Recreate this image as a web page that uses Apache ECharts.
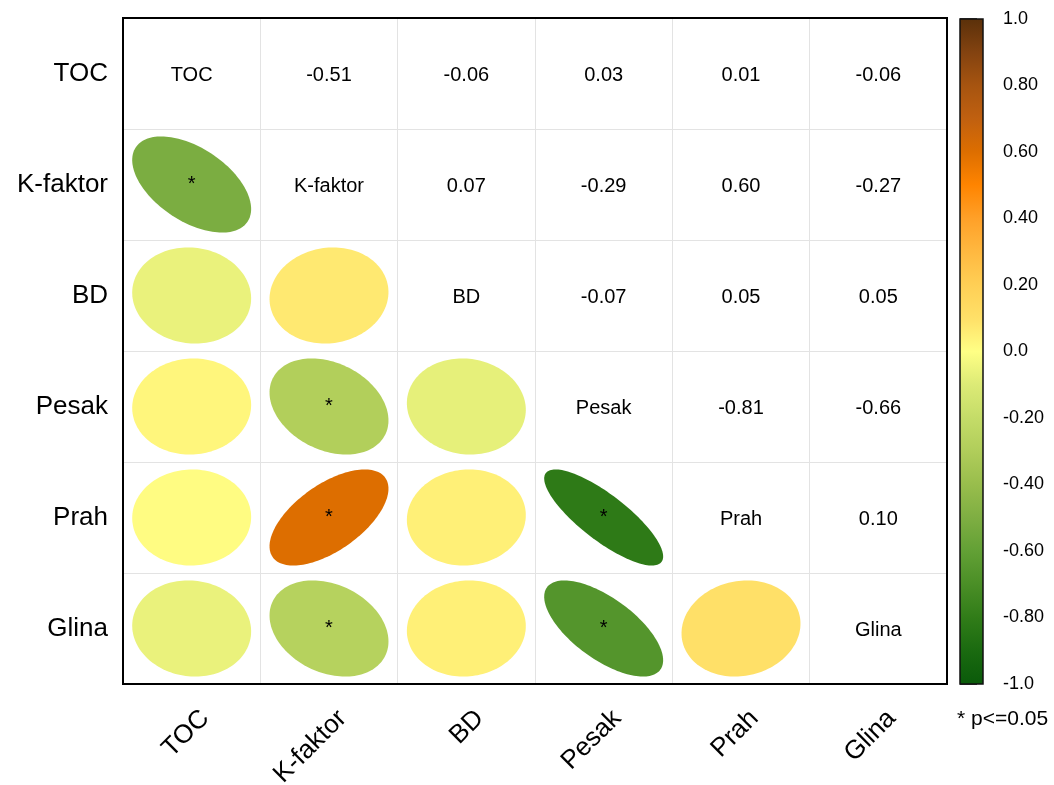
<!DOCTYPE html>
<html>
<head>
<meta charset="utf-8">
<title>Correlation matrix</title>
<script src="https://cdn.jsdelivr.net/npm/echarts@6/dist/echarts.min.js"></script>
<style>
html, body { margin: 0; padding: 0; background: #fff; }
#chart { width: 1054px; height: 785px; }
</style>
</head>
<body>
<div id="chart"></div>
<script>
// variables, in the order of the matrix
const vars = ['TOC', 'K-faktor', 'BD', 'Pesak', 'Prah', 'Glina']

// correlation rows
const corrTOC = [1, -0.51, -0.06, 0.03, 0.01, -0.06]
const corrKfaktor = [-0.51, 1, 0.07, -0.29, 0.60, -0.27]
const corrBD = [-0.06, 0.07, 1, -0.07, 0.05, 0.05]
const corrPesak = [0.03, -0.29, -0.07, 1, -0.81, -0.66]
const corrPrah = [0.01, 0.60, 0.05, -0.81, 1, 0.10]
const corrGlina = [-0.06, -0.27, 0.05, -0.66, 0.10, 1]
const corr = [corrTOC, corrKfaktor, corrBD, corrPesak, corrPrah, corrGlina]

// pairs with p <= 0.05, as [row, col]
const significant = [[1, 0], [3, 1], [4, 1], [4, 3], [5, 1], [5, 3]]

// colour scale, from -1.0 to 1.0 in steps of 0.1
const palette = [
  '#0a5a0a', '#1a6a10', '#307c18', '#4a8e26', '#62a035',
  '#7eae42', '#98bd4c', '#b0cd5a', '#c4dc68', '#dcea76',
  '#ffff85',
  '#ffe068', '#ffcf55', '#ffb840', '#ffa028', '#ff8400',
  '#dd6e00', '#c06010', '#a65410', '#824210', '#5a300a'
]

const FONT = "'Liberation Sans', Arial, sans-serif"

function isSig(row, col) {
  return significant.some((p) => p[0] === row && p[1] === col)
}

const ellipseData = []
const textData = []
corr.forEach((line, row) => {
  line.forEach((r, col) => {
    if (row > col) {
      ellipseData.push([col, row, r, isSig(row, col) ? 1 : 0])
    } else if (row === col) {
      textData.push([col, row, vars[row]])
    } else {
      textData.push([col, row, r.toFixed(2)])
    }
  })
})

function renderEllipse(params, api) {
  const c = api.coord([api.value(0), api.value(1)])
  const size = api.size([1, 1])
  const r = Math.max(-1, Math.min(1, api.value(2)))
  const d = Math.acos(r)
  const rx = size[0] * 0.433
  const ry = size[1] * 0.433
  const pts = []
  for (let i = 0; i < 144; i++) {
    const t = (2 * Math.PI * i) / 144
    pts.push([c[0] + rx * Math.cos(t + d / 2), c[1] - ry * Math.cos(t - d / 2)])
  }
  const children = [{
    type: 'polygon',
    shape: { points: pts },
    style: { fill: api.visual('color'), stroke: null },
  }]
  if (api.value(3) === 1) {
    children.push({
      type: 'text',
      style: {
        text: '*', x: c[0], y: c[1], fill: '#000',
        font: '20px ' + FONT, align: 'center', verticalAlign: 'middle',
      },
    })
  }
  return { type: 'group', children }
}

function renderText(params, api) {
  const c = api.coord([api.value(0), api.value(1)])
  return {
    type: 'text',
    style: {
      text: textData[params.dataIndex][2], x: c[0], y: c[1] + 1.5,
      fill: '#000', font: '20px ' + FONT, align: 'center', verticalAlign: 'middle',
    },
  }
}

// black frame round the matrix
function renderFrame(params) {
  const cs = params.coordSys
  return {
    type: 'rect',
    shape: { x: cs.x, y: cs.y, width: cs.width, height: cs.height },
    style: { fill: null, stroke: '#000', lineWidth: 2 },
    z2: 100,
  }
}

function renderColorbar(params, api) {
  const p1 = api.coord([0, api.value(1)])
  const p2 = api.coord([1, api.value(0)])
  const stops = palette.map((color, i) => ({ offset: 1 - i / (palette.length - 1), color }))
  stops.reverse()
  return {
    type: 'rect',
    shape: { x: p1[0], y: p1[1], width: p2[0] - p1[0], height: p2[1] - p1[1] },
    style: {
      fill: new echarts.graphic.LinearGradient(0, 0, 0, 1, stops),
      stroke: '#111', lineWidth: 1.5,
    },
  }
}

const chart = echarts.init(document.getElementById('chart'))
chart.setOption({
  backgroundColor: '#fff',
  animation: false,
  grid: [
    { left: 123, top: 18, width: 824, height: 666, outerBoundsMode: 'none', containLabel: false },
    { left: 960, top: 19, width: 23, height: 665, outerBoundsMode: 'none', containLabel: false },
  ],
  xAxis: [
    {
      type: 'category', data: vars, gridIndex: 0,
      axisLine: { show: false }, axisTick: { show: false },
      splitLine: { show: true, lineStyle: { color: '#e3e3e3', width: 1 } },
      axisLabel: { rotate: 45, margin: 17, verticalAlign: 'top', lineHeight: 38, color: '#000', fontSize: 26, fontFamily: FONT },
    },
    { type: 'value', gridIndex: 1, min: 0, max: 1, show: false },
  ],
  yAxis: [
    {
      type: 'category', data: vars, gridIndex: 0, inverse: true,
      axisLine: { show: false }, axisTick: { show: false },
      splitLine: { show: true, lineStyle: { color: '#e3e3e3', width: 1 } },
      axisLabel: { margin: 15, color: '#000', fontSize: 26, fontFamily: FONT },
    },
    {
      type: 'value', gridIndex: 1, min: -1, max: 1, interval: 0.2, position: 'right',
      axisLine: { show: false },
      axisTick: { show: true, length: 17, lineStyle: { color: '#111', width: 1.5 } },
      splitLine: { show: false },
      axisLabel: {
        margin: 20, color: '#000', fontSize: 18, fontFamily: FONT,
        formatter: (v) => (Math.abs(v) < 1e-9 || Math.abs(Math.abs(v) - 1) < 1e-9 ? v.toFixed(1) : v.toFixed(2)),
      },
    },
  ],
  visualMap: {
    show: false, type: 'continuous', min: -1, max: 1, dimension: 2, seriesIndex: 0,
    inRange: { color: palette },
  },
  graphic: [{
    type: 'text', left: 957, top: 709,
    style: { text: '* p<=0.05', font: '21px ' + FONT, fill: '#000' },
  }],
  series: [
    { type: 'custom', name: 'ellipses', xAxisIndex: 0, yAxisIndex: 0, data: ellipseData, renderItem: renderEllipse },
    { type: 'custom', name: 'values', xAxisIndex: 0, yAxisIndex: 0, data: textData.map((d) => [d[0], d[1]]), renderItem: renderText },
    { type: 'custom', name: 'frame', xAxisIndex: 0, yAxisIndex: 0, data: [[0, 0]], renderItem: renderFrame, silent: true },
    { type: 'custom', name: 'colorbar', xAxisIndex: 1, yAxisIndex: 1, data: [[-1, 1]], renderItem: renderColorbar },
  ],
})
</script>
</body>
</html>
